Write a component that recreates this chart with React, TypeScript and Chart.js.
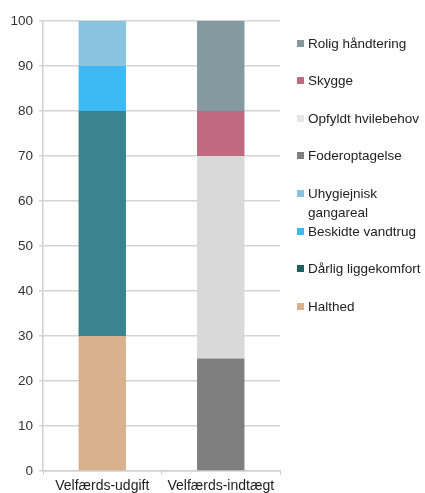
import React, { useEffect, useRef } from "react";
import { Chart, registerables } from "chart.js";

Chart.register(...registerables);

const categories = ["Velfærds-udgift", "Velfærds-indtægt"];

const seriesNames = [
  "Halthed",
  "Dårlig liggekomfort",
  "Beskidte vandtrug",
  "Uhygiejnisk gangareal",
  "Foderoptagelse",
  "Opfyldt hvilebehov",
  "Skygge",
  "Rolig håndtering",
];

const halthed = [30, null];
const daarligLiggekomfort = [50, null];
const beskidteVandtrug = [10, null];
const uhygiejniskGangareal = [10, null];
const foderoptagelse = [null, 25];
const opfyldtHvilebehov = [null, 45];
const skygge = [null, 10];
const roligHaandtering = [null, 20];

const seriesValues = [
  halthed,
  daarligLiggekomfort,
  beskidteVandtrug,
  uhygiejniskGangareal,
  foderoptagelse,
  opfyldtHvilebehov,
  skygge,
  roligHaandtering,
];

const seriesColors = [
  "#D9B18C",
  "#3A8490",
  "#3DBAF3",
  "#8AC3DF",
  "#7F7F7F",
  "#D9D9D9",
  "#C0697F",
  "#839AA0",
];

const legendMarkerColors = [
  "#D9B18C",
  "#1E5F66",
  "#3DBAF3",
  "#8AC3DF",
  "#7F7F7F",
  "#E6E6E6",
  "#C0697F",
  "#839AA0",
];

const yTickMax = 100;
const yTickStep = 10;

const FONT = "'Liberation Sans', Arial, sans-serif";

export default function App() {
  const canvasRef = useRef<HTMLCanvasElement | null>(null);

  useEffect(() => {
    if (!canvasRef.current) return;
    const chart = new Chart(canvasRef.current, {
      type: "bar",
      data: {
        labels: categories,
        datasets: seriesNames.map((name, i) => ({
          label: name,
          data: seriesValues[i],
          backgroundColor: seriesColors[i],
          borderWidth: 0,
          categoryPercentage: 1,
          barPercentage: 0.4,
        })),
      },
      options: {
        responsive: false,
        animation: false,
        maintainAspectRatio: false,
        layout: { padding: { top: 21, right: 145, left: 0, bottom: 0 } },
        plugins: {
          legend: { display: false },
          tooltip: { enabled: false },
        },
        scales: {
          x: {
            stacked: true,
            grid: {
              display: true,
              drawOnChartArea: false,
              drawTicks: true,
              tickLength: 4,
              color: "#cfcfcf",
              offset: true,
            },
            border: { color: "#cfcfcf", width: 1.5 },
            ticks: {
              color: "#222",
              font: { family: FONT, size: 14 },
              padding: 3,
              maxRotation: 0,
            },
            afterFit: (scale: any) => {
              scale.height = 22;
            },
          },
          y: {
            stacked: true,
            min: 0,
            max: yTickMax,
            grid: {
              color: "#d4d4d4",
              lineWidth: 1.5,
              tickLength: 4,
            },
            border: { color: "#cfcfcf", width: 1.5 },
            ticks: {
              stepSize: yTickStep,
              color: "#333",
              font: { family: FONT, size: 13.5 },
              padding: 6,
            },
            afterFit: (scale: any) => {
              scale.width = 43;
            },
          },
        },
      },
    });
    return () => chart.destroy();
  }, []);

  const legendOrder = seriesNames.map((_, i) => i).reverse();

  return (
    <div style={{ position: "fixed", left: 0, top: 0, width: 425, height: 493, background: "#fff" }}>
      <canvas ref={canvasRef} width={425} height={493} style={{ display: "block" }} />
      {legendOrder.map((idx, k) => (
        <div
          key={seriesNames[idx]}
          style={{
            position: "absolute",
            left: 297,
            top: 43 + k * 37.6 - 9.5,
            width: 128,
            display: "flex",
            alignItems: "flex-start",
            fontFamily: FONT,
            fontSize: 13.5,
            lineHeight: "19px",
            color: "#222",
          }}
        >
          <span
            style={{
              display: "inline-block",
              width: 7,
              height: 7,
              marginTop: 6,
              marginRight: 4,
              background: legendMarkerColors[idx],
              flex: "0 0 auto",
            }}
          />
          <span style={{ width: 118 }}>{seriesNames[idx]}</span>
        </div>
      ))}
    </div>
  );
}
